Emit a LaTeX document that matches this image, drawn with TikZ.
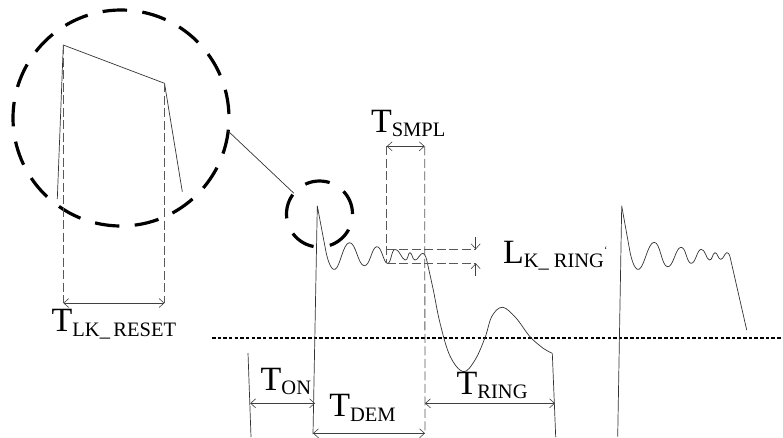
\documentclass[tikz,border=0pt]{standalone}
\usepackage{fontspec}
\setmainfont{Liberation Serif}
\usetikzlibrary{arrows.meta}

\newcommand{\timelabel}[2]{\fontsize{34}{34}\selectfont #1\raisebox{-4.5pt}{\fontsize{20.5}{20.5}\selectfont #2}}

\tikzset{
    trace/.style={line width=.7pt, black!80, line join=round},
    guide/.style={line width=.8pt, black!65, dash pattern=on 9pt off 3.5pt},
    span/.style={line width=.6pt, black!75, {Straight Barb[length=5pt,width=9pt]}-{Straight Barb[length=5pt,width=9pt]}},
    pointer/.style={line width=.6pt, black!75, -{Straight Barb[length=5pt,width=9pt]}},
    loop/.style={circle, draw, line width=3.2pt, inner sep=0pt, outer sep=0pt},
    timing/.style={anchor=base west, inner sep=0pt, outer sep=0pt},
}

\begin{document}
\begin{tikzpicture}[x=1pt, y=-1pt]
    \useasboundingbox (0,0) rectangle (783,437);

    % circles
    \node[loop, minimum size=216pt, dash pattern=on 24.5pt off 15.4pt, dash phase=35.9pt] (bigloop) at (121,118) {};
    \node[loop, minimum size=66pt, dash pattern=on 25pt off 16.5pt] (smallloop) at (319.5,214) {};
    \draw[trace] (bigloop.-7) -- (smallloop.141);

    % zoomed trace
    \coordinate (zoomtop) at (63.3,45);
    \coordinate (zoomknee) at (164.5,83.3);
    \draw[trace] (57.3,199) -- (zoomtop) -- (zoomknee) -- (182.3,191.7);

    % ground line
    \coordinate (groundl) at (212,337.7);
    \coordinate (groundr) at (783,337.7);
    \draw[line width=1.8pt, dash pattern=on 3.5pt off 2.15pt] (groundl) -- (groundr);

    % main waveform
    \draw[trace] (248,353) -- (251,437);
    \draw[trace] (313,434) -- (317.3,206) -- (326,252)
        -- plot[smooth, tension=.8] coordinates {(326,252) (335,269.3) (349.3,242.7) (364,265.7) (376.7,246.7) (387.3,263.3) (395,249.3) (405,260) (410,252.7) (415,260) (422.7,253.3) (426.7,260)};
    \draw[trace] plot[smooth, tension=.6] coordinates {(426.7,260) (433.3,290) (440,323) (450,356) (463.3,371.7) (475,360) (485,337.7) (492,316) (502.7,307.3) (516,318) (530,336.7) (543.3,348.3) (552.3,353.3)};
    \draw[trace] (552.3,353.3) -- (555.7,437);

    % next period
    \draw[trace] (617.7,436.7) -- (621.7,206) -- (630,252)
        -- plot[smooth, tension=.8] coordinates {(630,252) (639,269.3) (654,242.3) (667.3,266.7) (680.7,247.3) (691,263.3) (701,249.3) (709.3,260) (715,252.7) (720.7,259.3) (726.7,252.7) (730,256.7)}
        -- (746.7,330);

    % guides
    \coordinate (resetl) at (63.3,303);
    \coordinate (resetr) at (164.5,303);
    \draw[guide] (zoomtop) -- (resetl);
    \draw[guide] (zoomknee) -- (resetr);
    \draw[span] (resetl) -- (resetr);

    \coordinate (smpll) at (386.7,146.3);
    \coordinate (smplr) at (424.7,146.3);
    \coordinate (smplb) at (386.7,263.3);
    \coordinate (smpla) at (386.7,249.3);
    \coordinate (demend) at (425,433.3);
    \coordinate (ringa) at (475.7,249.3);
    \coordinate (ringb) at (475.7,263.3);
    \coordinate (ringat) at (475.7,237);
    \coordinate (ringbt) at (475.7,275.7);
    \draw[guide] (smpll) -- (smplb);
    \draw[guide] (smplr) -- (demend);
    \draw[guide] (smpla) -- (ringa);
    \draw[guide] (smplb) -- (ringb);
    \draw[span] (smpll) -- (smplr);
    \draw[pointer] (ringat) -- (ringa);
    \draw[pointer] (ringbt) -- (ringb);

    % spans under the ground line
    \coordinate (onl) at (250.2,403.3);
    \coordinate (onr) at (315,403.3);
    \coordinate (deml) at (313,433.3);
    \coordinate (ringl) at (425,403.3);
    \coordinate (ringr) at (555,403.3);
    \draw[span] (onl) -- (onr);
    \draw[span] (deml) -- (demend);
    \draw[span] (ringl) -- (ringr);

    % labels
    \node[timing] (tsmpl) at (371,132.3) {\timelabel{T}{SMPL}};
    \node[timing] (lkring) at (503,263) {\timelabel{L}{K\_ RING\raisebox{14pt}{\fontsize{10}{10}\selectfont `}}};
    \node[timing] (treset) at (51.7,331.7) {\timelabel{T}{LK\_\,RESET}};
    \node[timing] (ton) at (260.7,390) {\timelabel{T}{ON}};
    \node[timing] (tdem) at (329.3,416.7) {\timelabel{T}{DEM}};
    \node[timing] (tring) at (456.7,394.3) {\timelabel{T}{RING}};
\end{tikzpicture}
\end{document}
